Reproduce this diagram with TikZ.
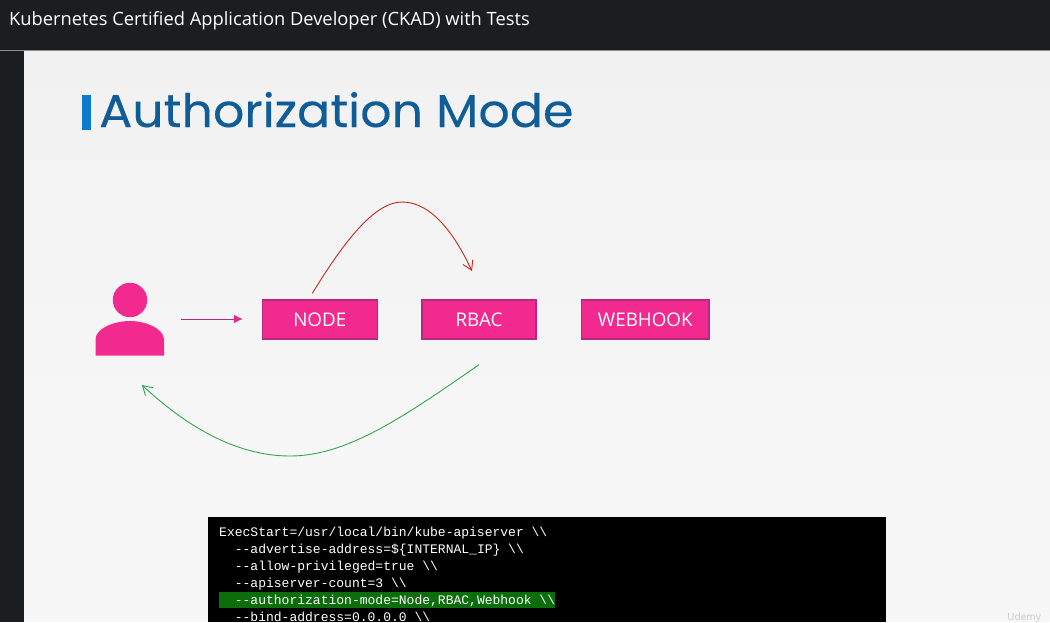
\documentclass[tikz,border=0pt]{standalone}
\usepackage{fontspec}
\setmainfont{Open Sans}
\newfontfamily\codefont{Liberation Mono}
\newfontfamily\titlefont[FakeBold=0.25]{Poppins}
\usetikzlibrary{arrows.meta}
\definecolor{hdr}{HTML}{1C1D1F}
\definecolor{pinkfill}{HTML}{F22A8F}
\definecolor{pinkline}{HTML}{B42A80}
\definecolor{titleblue}{HTML}{0F5C97}
\definecolor{barblue}{HTML}{0E7ACB}
\definecolor{redline}{HTML}{C5281C}
\definecolor{greenline}{HTML}{36A64A}
\definecolor{hl}{HTML}{0B6E0B}
\tikzset{
  x=1pt,y=-1pt,
  modebox/.style={draw=pinkline,line width=1.2pt,fill=pinkfill,text=white,minimum height=39pt,inner sep=0pt,font=\fontsize{18.8}{20}\selectfont},
  codeline/.style={anchor=base west,inner sep=0pt,text=white,font=\codefont\fontsize{13.02}{15}\selectfont},
  curvearrow/.style={line width=0.9pt,-{Straight Barb[length=9pt,width=11pt]}}
}
\begin{document}
\begin{tikzpicture}
\useasboundingbox (0,0) rectangle (1050,622);
\fill[hdr] (0,0) rectangle (1050,622);
\fill[top color=black!5.5,bottom color=white!97!black,shading angle=0] (24,51) rectangle (1050,510);
\fill[white!97!black] (24,510) rectangle (1050,622);
\draw[black!45,line width=0.7pt] (0,50.5) -- (1050,50.5);
\node[anchor=base west,inner sep=0pt,text=white,font=\fontsize{18.3}{20}\selectfont] (hdrtitle) at (9,25) {Kubernetes Certified Application Developer (CKAD) with Tests};
\fill[barblue] (82,95) rectangle (91,130);
\node[anchor=base west,inner sep=0pt,text=titleblue,font=\titlefont\fontsize{46}{50}\selectfont] (title) at (99,127) {\scalebox{1.067}[1]{Authorization Mode}};
% user icon
\fill[pinkfill] (130,300) circle (17.2);
\fill[pinkfill] (95.5,355.5) -- (95.5,339) .. controls (96,328) and (115,321) .. (130,321) .. controls (145,321) and (163,328) .. (164,339) -- (164,355.5) -- cycle;
\coordinate (userout) at (181,319);
\coordinate (userback) at (142,385);
\node[modebox,minimum width=115pt] (node) at (319.75,319.5) {NODE};
\node[modebox,minimum width=114pt] (rbac) at (479,319.5) {RBAC};
\node[modebox,minimum width=127.5pt] (webhook) at (645.25,319.5) {WEBHOOK};
\coordinate (rbacin) at (472,271);
\draw[pinkline,line width=0.8pt,-{Latex[length=8.5pt,width=8.5pt,color=pinkfill!75!pinkline]},shorten >=19pt] (userout) -- (userout -| node.west);
\draw[redline,curvearrow] (node.north) ++(-7.5,-6) .. controls (345,240) and (375,202) .. (402,202) .. controls (432,202) and (455,235) .. (rbacin);
\draw[greenline,curvearrow] (rbac.south) ++(0,25) .. controls (400,420) and (345,456) .. (290,456) .. controls (235,456) and (185,425) .. (userback);
% code
\fill[black] (208,517) rectangle (886,622);
\fill[hl] (219,591.5) rectangle (555,608);
\node[codeline] (c1) at (219,536) {ExecStart=/usr/local/bin/kube-apiserver \textbackslash\textbackslash};
\node[codeline] (c2) at (219,553) {\ \ --advertise-address=\$\{INTERNAL\_IP\} \textbackslash\textbackslash};
\node[codeline] (c3) at (219,570) {\ \ --allow-privileged=true \textbackslash\textbackslash};
\node[codeline] (c4) at (219,587) {\ \ --apiserver-count=3 \textbackslash\textbackslash};
\node[codeline] (c5) at (219,604) {\ \ --authorization-mode=Node,RBAC,Webhook \textbackslash\textbackslash};
\node[codeline] (c6) at (219,621) {\ \ --bind-address=0.0.0.0 \textbackslash\textbackslash};
\node[anchor=base east,inner sep=0pt,text=black!22,font=\fontsize{10}{10}\selectfont] (udemy) at (1041,620) {Udemy};
\end{tikzpicture}
\end{document}
